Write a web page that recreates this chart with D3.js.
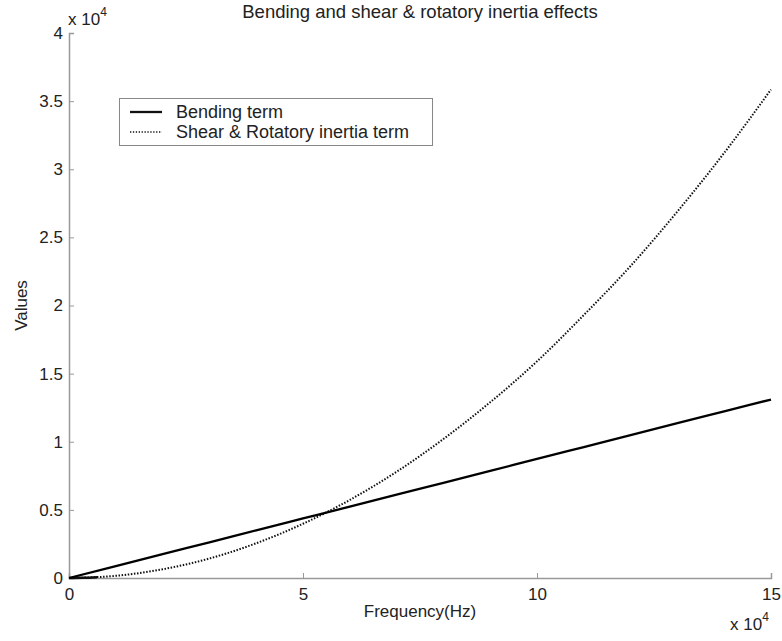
<!DOCTYPE html>
<html>
<head>
<meta charset="utf-8">
<script src="https://cdn.jsdelivr.net/npm/d3@7"></script>
<style>
  html, body { margin: 0; padding: 0; background: #fff; }
  svg text { font-family: "Liberation Sans", Arial, sans-serif; fill: #222; }
</style>
</head>
<body>
<svg id="chart" width="782" height="641"></svg>
<script>
// Frequency samples (units of 1e4 Hz)
const frequency = [0, 1, 2, 3, 4, 5, 6, 7, 8, 9, 10, 11, 12, 13, 14, 15];
// Bending term values (units of 1e4)
const bending = [0, 0.087, 0.175, 0.262, 0.35, 0.437, 0.524, 0.612, 0.699, 0.786, 0.874, 0.961, 1.048, 1.136, 1.223, 1.31];
// Shear & rotatory inertia term values (units of 1e4)
const shear = [0, 0.016, 0.064, 0.143, 0.255, 0.398, 0.573, 0.78, 1.02, 1.29, 1.59, 1.93, 2.29, 2.69, 3.12, 3.585];
// Near-origin stretch of the shear curve where it hugs the axis
const shearStartF = [0, 0.3, 0.6];
const shearStartV = [0, 0.0015, 0.006];

const xTicks = [0, 5, 10, 15];
const yTicks = [0, 0.5, 1, 1.5, 2, 2.5, 3, 3.5, 4];

const seriesNames = ["Bending term", "Shear & Rotatory inertia term"];

const svg = d3.select("#chart");
const plotLeft = 69, plotRight = 771, plotTop = 33, plotBottom = 578;

const x = d3.scaleLinear().domain([0, 15]).range([plotLeft, plotRight]);
const y = d3.scaleLinear().domain([0, 4]).range([plotBottom, plotTop]);

const axisColor = "#999";
const tickFont = 17;
const fmt = d => (Number.isInteger(d) ? d3.format("d")(d) : d3.format(".1f")(d));

// Bottom axis with inward ticks
const gx = svg.append("g").attr("transform", `translate(0,${plotBottom})`)
  .call(d3.axisBottom(x).tickValues(xTicks).tickSize(-5).tickPadding(10).tickFormat(fmt));
gx.select(".domain").attr("stroke", axisColor).attr("stroke-width", 1.5);
gx.selectAll(".tick line").attr("stroke", axisColor);
gx.selectAll(".tick text").attr("font-size", tickFont).attr("fill", "#222");

// Left axis with inward ticks
const gy = svg.append("g").attr("transform", `translate(${plotLeft},0)`)
  .call(d3.axisLeft(y).tickValues(yTicks).tickSize(-5).tickPadding(6).tickFormat(fmt));
gy.select(".domain").attr("stroke", axisColor).attr("stroke-width", 1.5);
gy.selectAll(".tick line").attr("stroke", axisColor);
gy.selectAll(".tick text").attr("font-size", tickFont).attr("fill", "#222");

// Exponent labels
const yExp = svg.append("text").attr("x", 68).attr("y", 25).attr("font-size", 17);
yExp.append("tspan").text("x 10");
yExp.append("tspan").attr("font-size", 12).attr("dy", -9).text("4");

const xExp = svg.append("text").attr("x", 730).attr("y", 630).attr("font-size", 17);
xExp.append("tspan").text("x 10");
xExp.append("tspan").attr("font-size", 12).attr("dy", -9).text("4");

// Title and axis labels
svg.append("text").attr("x", (plotLeft + plotRight) / 2).attr("y", 18)
  .attr("text-anchor", "middle").attr("font-size", 18.5)
  .text("Bending and shear & rotatory inertia effects");
svg.append("text").attr("x", (plotLeft + plotRight) / 2).attr("y", 617)
  .attr("text-anchor", "middle").attr("font-size", 17)
  .text("Frequency(Hz)");
svg.append("text")
  .attr("transform", `translate(27,${(plotTop + plotBottom) / 2}) rotate(-90)`)
  .attr("text-anchor", "middle").attr("font-size", 17)
  .text("Values");

const line = d3.line().x(d => x(d[0])).y(d => y(d[1])).curve(d3.curveMonotoneX);

// Shear & rotatory inertia term (dotted)
svg.append("path")
  .datum(d3.zip(frequency, shear))
  .attr("d", line)
  .attr("fill", "none").attr("stroke", "#111")
  .attr("stroke-width", 2).attr("stroke-dasharray", "1.5,1.6");
svg.append("path")
  .datum(d3.zip(shearStartF, shearStartV))
  .attr("d", line)
  .attr("fill", "none").attr("stroke", "#111").attr("stroke-width", 2.4);

// Bending term (solid)
svg.append("path")
  .datum(d3.zip(frequency, bending))
  .attr("d", line)
  .attr("fill", "none").attr("stroke", "#000").attr("stroke-width", 2.3);

// Legend
const lg = svg.append("g");
lg.append("rect").attr("x", 119.5).attr("y", 98.5).attr("width", 313).attr("height", 47)
  .attr("fill", "#fff").attr("stroke", "#888").attr("stroke-width", 1);
const legendStyles = [
  { dash: null, width: 2.3 },
  { dash: "1.3,1.6", width: 1.6 }
];
seriesNames.forEach((name, i) => {
  const yy = 112 + i * 20;
  lg.append("line").attr("x1", 130).attr("x2", 162).attr("y1", yy).attr("y2", yy)
    .attr("stroke", "#111").attr("stroke-width", legendStyles[i].width)
    .attr("stroke-dasharray", legendStyles[i].dash);
  lg.append("text").attr("x", 176).attr("y", yy + 6).attr("font-size", 18).text(name);
});
</script>
</body>
</html>
